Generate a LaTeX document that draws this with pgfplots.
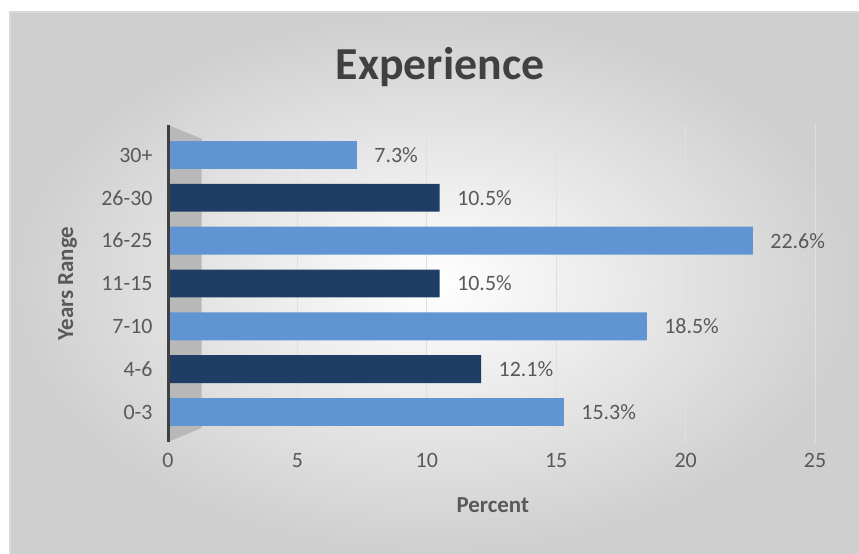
\documentclass[border=0pt]{standalone}
\usepackage{pgfplots}
\pgfplotsset{compat=1.18}
\usepackage{fontspec}
\setmainfont{Carlito}
\definecolor{lightbar}{HTML}{6094D2}
\definecolor{darkbar}{HTML}{203D66}
\definecolor{txt}{HTML}{595959}
\definecolor{ttl}{HTML}{404040}
\begin{document}
\begin{tikzpicture}[x=1bp,y=1bp]
\path[use as bounding box] (0,0) rectangle (859,554);
\fill[white] (0,0) rectangle (859,554);
\shade[inner color=white, outer color=black!19] (10,0) rectangle (859,542);
\draw[black!15, line width=1.2bp] (10,0) -- (10,542) -- (859,542);
\node[anchor=base, font=\fontsize{46}{50}\selectfont\bfseries, text=ttl] at (440,474) {Experience};
\begin{axis}[
  at={(168bp,112bp)}, anchor=south west,
  scale only axis, width=647bp, height=317bp,
  xbar, bar width=0.65, bar shift=0pt,
  xmin=0, xmax=25, ymin=-0.7, ymax=6.7,
  xtick={0,5,...,25},
  ytick={0,...,6},
  yticklabels={0-3,4-6,7-10,11-15,16-25,26-30,30+},
  xmajorgrids, grid style={black!12, line width=1bp},
  axis line style={draw=none},
  major tick length=0pt, tick style={draw=none},
  /pgf/number format/assume math mode=true,
  ticklabel style={font=\fontsize{22}{26}\selectfont, text=txt},
  xticklabel style={yshift=-8bp},
  yticklabel style={xshift=-12bp},
  xlabel={\bfseries Percent},
  ylabel={\bfseries Years Range},
  label style={font=\fontsize{23}{27}\selectfont, text=txt},
  xlabel style={at={(axis description cs:0.502,-0.2)}, anchor=center},
  ylabel style={at={(axis description cs:-0.155,0.5)}, anchor=center},
  point meta=x,
  nodes near coords={\pgfmathprintnumber[fixed,fixed zerofill,precision=1]{\pgfplotspointmeta}\%},
  every node near coord/.append style={font=\fontsize{22}{26}\selectfont, text=txt, xshift=14bp},
  clip=false,
]
\fill[black!28] (axis cs:0,-0.7) -- (axis cs:1.3,-0.37) -- (axis cs:1.3,6.38) -- (axis cs:0,6.7) -- cycle;
\addplot[fill=lightbar, draw=none] coordinates {(15.3,0) (18.5,2) (22.6,4) (7.3,6)};
\addplot[fill=darkbar, draw=none] coordinates {(12.1,1) (10.5,3) (10.5,5)};
\draw[black!75, line width=3bp] (axis cs:0,-0.7) -- (axis cs:0,6.7);
\end{axis}
\end{tikzpicture}
\end{document}
